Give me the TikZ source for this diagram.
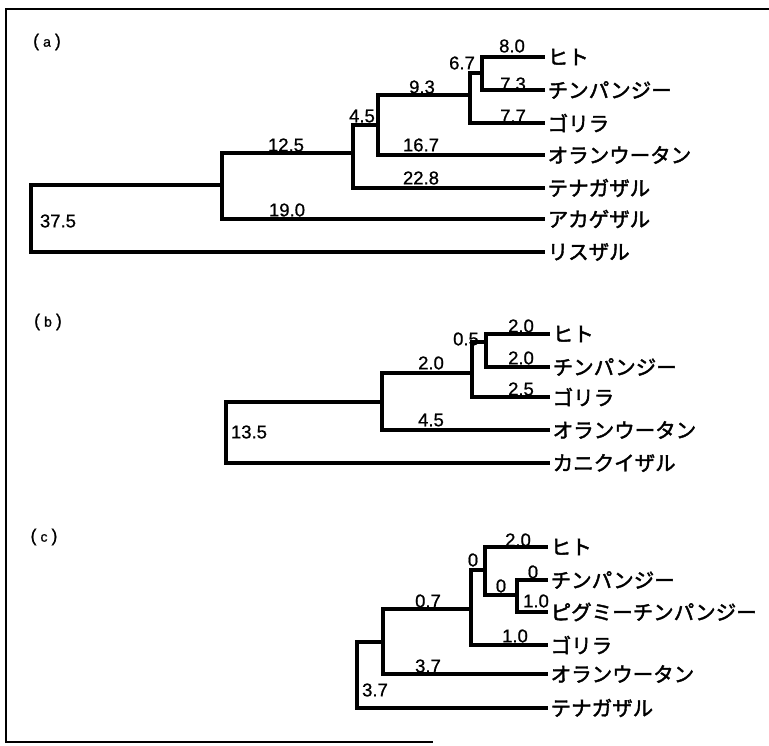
\documentclass[tikz,border=0pt]{standalone}
\usepackage{fontspec}
\setmainfont{Liberation Sans}
\newfontfamily\jp[FakeBold=2]{Noto Sans CJK JP}
\newfontfamily\numfont[FakeBold=0.8]{Liberation Sans}
\begin{document}
\begin{tikzpicture}[x=1pt,y=-1pt,
  br/.style={line width=3.3pt, line join=miter},
  frame/.style={line width=2pt},
  leaf/.style={anchor=west, inner xsep=2.5pt, inner ysep=0pt, font=\jp\fontsize{20.5}{21}\selectfont},
  num/.style={inner sep=0pt, font=\numfont\fontsize{18.5}{19}\selectfont},
  tag/.style={inner sep=0pt, font=\numfont\fontsize{18}{19}\selectfont}]
\useasboundingbox (0,0) rectangle (769,745);
% frame
\coordinate (f1) at (769,9);
\coordinate (f2) at (6,9);
\coordinate (f3) at (6,742);
\coordinate (f4) at (433,742);
\draw[frame] (f1) -- (f2) -- (f3) -- (f4);

% ---------- (a) ----------
\node[tag] (ta) at (47,42) {(\hspace{4pt}{\fontsize{14}{15}\selectfont a}\hspace{4pt})};
\coordinate (aR) at (31,220);
\coordinate (a1) at (222,185);
\coordinate (a2) at (353,153);
\coordinate (a3) at (378,125);
\coordinate (a4) at (470,95);
\coordinate (a5) at (482,73);
\node[leaf] (aL1) at (545,57) {ヒト};
\node[leaf] (aL2) at (545,90) {チンパンジー};
\node[leaf] (aL3) at (545,123) {ゴリラ};
\node[leaf] (aL4) at (545,155) {オランウータン};
\node[leaf] (aL5) at (545,188) {テナガザル};
\node[leaf] (aL6) at (545,219) {アカゲザル};
\node[leaf] (aL7) at (545,252) {リスザル};
\draw[br] (aR) |- (a1);
\draw[br] (aR) |- (aL7);
\draw[br] (a1) |- (a2);
\draw[br] (a1) |- (aL6);
\draw[br] (a2) |- (a3);
\draw[br] (a2) |- (aL5);
\draw[br] (a3) |- (a4);
\draw[br] (a3) |- (aL4);
\draw[br] (a4) |- (a5);
\draw[br] (a4) |- (aL3);
\draw[br] (a5) |- (aL1);
\draw[br] (a5) |- (aL2);
\node[num] (an1) at (512,46) {8.0};
\node[num] (an2) at (513,84) {7.3};
\node[num] (an3) at (513,116) {7.7};
\node[num] (an4) at (462,63) {6.7};
\node[num] (an5) at (422,87) {9.3};
\node[num] (an6) at (421,145) {16.7};
\node[num] (an7) at (421,178) {22.8};
\node[num] (an8) at (362,116) {4.5};
\node[num] (an9) at (286,145) {12.5};
\node[num] (an10) at (287,210) {19.0};
\node[num] (an11) at (58,221) {37.5};

% ---------- (b) ----------
\node[tag] (tb) at (48,322) {(\hspace{4pt}{\fontsize{14}{15}\selectfont b}\hspace{4pt})};
\coordinate (bR) at (226,430);
\coordinate (b1) at (382,402);
\coordinate (b2) at (472,373);
\coordinate (b3) at (486,342);
\node[leaf] (bL1) at (550,334) {ヒト};
\node[leaf] (bL2) at (550,367) {チンパンジー};
\node[leaf] (bL3) at (550,397) {ゴリラ};
\node[leaf] (bL4) at (550,430) {オランウータン};
\node[leaf] (bL5) at (550,463) {カニクイザル};
\draw[br] (bR) |- (b1);
\draw[br] (bR) |- (bL5);
\draw[br] (b1) |- (b2);
\draw[br] (b1) |- (bL4);
\draw[br] (b2) |- (b3);
\draw[br] (b2) |- (bL3);
\draw[br] (b3) |- (bL1);
\draw[br] (b3) |- (bL2);
\node[num] (bn1) at (521,326) {2.0};
\node[num] (bn2) at (521,358) {2.0};
\node[num] (bn3) at (521,389) {2.5};
\node[num] (bn4) at (466,339) {0.5};
\node[num] (bn5) at (431,363) {2.0};
\node[num] (bn6) at (431,420) {4.5};
\node[num] (bn7) at (249,432) {13.5};

% ---------- (c) ----------
\node[tag] (tc) at (44,537) {(\hspace{4pt}{\fontsize{14}{15}\selectfont c}\hspace{4pt})};
\coordinate (cR) at (357,675);
\coordinate (c1) at (383,642);
\coordinate (c2) at (471,609);
\coordinate (c3) at (485,570);
\coordinate (c4) at (517,595);
\node[leaf] (cL1) at (548,547) {ヒト};
\node[leaf] (cL2) at (548,580) {チンパンジー};
\node[leaf] (cL3) at (548,612) {ピグミーチンパンジー};
\node[leaf] (cL4) at (548,645) {ゴリラ};
\node[leaf] (cL5) at (548,674) {オランウータン};
\node[leaf] (cL6) at (548,708) {テナガザル};
\draw[br] (cR) |- (c1);
\draw[br] (cR) |- (cL6);
\draw[br] (c1) |- (c2);
\draw[br] (c1) |- (cL5);
\draw[br] (c2) |- (c3);
\draw[br] (c2) |- (cL4);
\draw[br] (c3) |- (cL1);
\draw[br] (c3) |- (c4);
\draw[br] (c4) |- (cL2);
\draw[br] (c4) |- (cL3);
\node[num] (cn1) at (518,540) {2.0};
\node[num] (cn2) at (473,560) {0};
\node[num] (cn3) at (501,586) {0};
\node[num] (cn4) at (533,572) {0};
\node[num] (cn5) at (536,601) {1.0};
\node[num] (cn6) at (515,636) {1.0};
\node[num] (cn7) at (428,601) {0.7};
\node[num] (cn8) at (428,666) {3.7};
\node[num] (cn9) at (375,690) {3.7};
\end{tikzpicture}
\end{document}
